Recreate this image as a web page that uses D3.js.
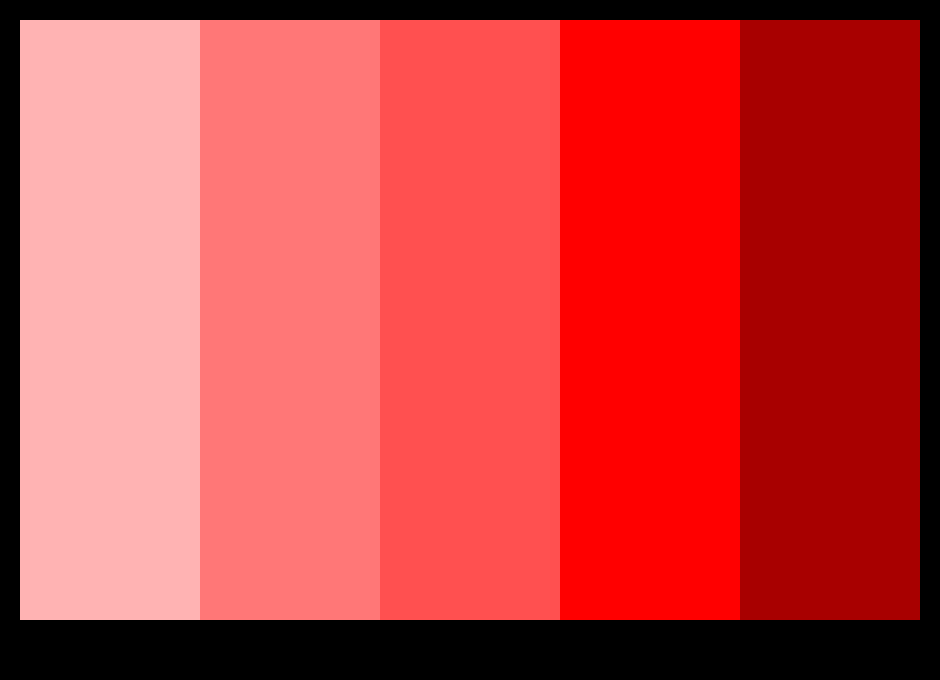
<!DOCTYPE html>
<html>
<head>
<meta charset="utf-8">
<script src="https://cdn.jsdelivr.net/npm/d3@7"></script>
<style>
  body { margin: 0; background: #000; }
</style>
</head>
<body>
<div id="chart-container"></div>
<script>
// swatch names and colours, light to dark
const swatches = ["#ffb3b3", "#ff7777", "#ff5050", "#ff0000", "#a80000"];

// set dimensions and margins for the chart
const margin = { top: 20, right: 20, bottom: 60, left: 20 };
const width = 940 - margin.left - margin.right;
const height = 680 - margin.top - margin.bottom;

const svg = d3.select("#chart-container")
  .append("svg")
  .attr("width", width + margin.left + margin.right)
  .attr("height", height + margin.top + margin.bottom)
  .style("display", "block")
  .style("background", "#000")
  .append("g")
  .attr("transform", `translate(${margin.left},${margin.top})`);

// one band per swatch, no gaps
const x = d3.scaleBand()
  .domain(swatches)
  .range([0, width])
  .padding(0);

svg.selectAll("rect")
  .data(swatches)
  .enter()
  .append("rect")
  .attr("x", d => x(d))
  .attr("y", 0)
  .attr("width", x.bandwidth())
  .attr("height", height)
  .style("fill", d => d);
</script>
</body>
</html>
